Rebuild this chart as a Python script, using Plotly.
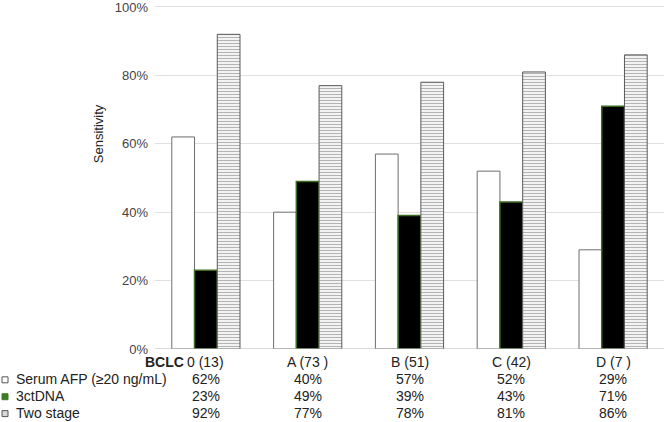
import plotly.graph_objects as go

categories = ["0 (13)", "A (73 )", "B (51)", "C (42)", "D (7 )"]
afp = [62, 40, 57, 52, 29]
ctdna = [23, 49, 39, 43, 71]
two_stage = [92, 77, 78, 81, 86]
series_names = ["Serum AFP (≥20 ng/mL)", "3ctDNA", "Two stage"]
y_ticks = [0, 20, 40, 60, 80, 100]
y_tick_labels = ["0%", "20%", "40%", "60%", "80%", "100%"]

W, H = 664, 422
Y0_PIX, Y100_PIX = 349, 5          # pixel rows of 0% and 100%
L, R, T = 155, 0, 1
B = H - Y0_PIX
PW, PH = W - L - R, H - T - B
Y_TOP = 100 * PH / (Y0_PIX - Y100_PIX)

def px(xp):
    return (xp - L) / PW

def py(yp):
    return (H - B - yp) / PH

FONT = "Liberation Sans, Arial, Helvetica, sans-serif"
TXT = "#222222"

fig = go.Figure()
fig.add_bar(x=categories, y=afp, name=series_names[0],
            marker=dict(color="white", line=dict(color="#6e6e6e", width=1)))
fig.add_bar(x=categories, y=ctdna, name=series_names[1],
            marker=dict(color="#000000", line=dict(color="#3d6b22", width=1.5)))
fig.add_bar(x=categories, y=two_stage, name=series_names[2],
            marker=dict(color="white", line=dict(color="#5a5a5a", width=1),
                        pattern=dict(shape="-", fgcolor="#6a6a6a", bgcolor="white",
                                     size=3, solidity=0.45)))

fig.update_layout(
    width=W, height=H,
    margin=dict(l=L, r=R, t=T, b=B),
    paper_bgcolor="white", plot_bgcolor="white",
    barmode="group", bargap=0.33, bargroupgap=0,
    showlegend=False,
    font=dict(family=FONT, size=14, color=TXT),
    xaxis=dict(range=[-0.5, 4.5], showticklabels=False, showgrid=False,
               showline=False, zeroline=False, ticks=""),
    yaxis=dict(range=[0, Y_TOP], tickvals=y_ticks, ticktext=y_tick_labels,
               showgrid=True, gridcolor="#e0e0e0", gridwidth=1,
               zeroline=False, showline=False, ticks="",
               ticklabeloverflow="allow",
               tickfont=dict(size=13, color="#444444"), ticklabelstandoff=6),
)

# baseline
fig.add_shape(type="line", xref="paper", yref="y", x0=0, x1=1, y0=0, y1=0,
              line=dict(color="#b5b5b5", width=1.2), layer="above")

# axis title
fig.add_annotation(text="Sensitivity", xref="paper", yref="paper",
                   x=px(98), y=py(133), textangle=-90, showarrow=False,
                   font=dict(size=13, color=TXT), xanchor="center", yanchor="middle")

row_y = [362, 379, 396, 413]

# header row
fig.add_annotation(text="<b>BCLC</b>", xref="paper", yref="paper", x=px(186), y=py(row_y[0]),
                   xanchor="right", yanchor="middle", showarrow=False,
                   font=dict(size=14, color=TXT))
for c in categories:
    fig.add_annotation(text=c, xref="x", yref="paper", x=c, y=py(row_y[0]),
                       xanchor="center", yanchor="middle", showarrow=False,
                       font=dict(size=14, color=TXT))

# data rows
for i, (name, vals) in enumerate(zip(series_names, [afp, ctdna, two_stage])):
    yy = py(row_y[i + 1])
    fig.add_annotation(text=name, xref="paper", yref="paper", x=px(14), y=yy,
                       xanchor="left", yanchor="middle", showarrow=False,
                       font=dict(size=14, color=TXT))
    for c, v in zip(categories, vals):
        fig.add_annotation(text=f"{v}%", xref="x", yref="paper", x=c, y=yy,
                           xanchor="center", yanchor="middle", showarrow=False,
                           font=dict(size=14, color=TXT))

# legend markers
marker_styles = [
    dict(fillcolor="white", line=dict(color="#555555", width=1)),
    dict(fillcolor="#3f7a25", line=dict(color="#3f7a25", width=1)),
    dict(fillcolor="#d8d8d8", line=dict(color="#555555", width=1)),
]
for i, st in enumerate(marker_styles):
    yc = row_y[i + 1] + 1
    fig.add_shape(type="rect", xref="paper", yref="paper",
                  x0=px(2), x1=px(8), y0=py(yc + 3), y1=py(yc - 3), **st)

fig.write_html("out.html", config={"displayModeBar": False},
               post_script="document.body.style.margin='0';document.body.style.overflow='hidden';")
